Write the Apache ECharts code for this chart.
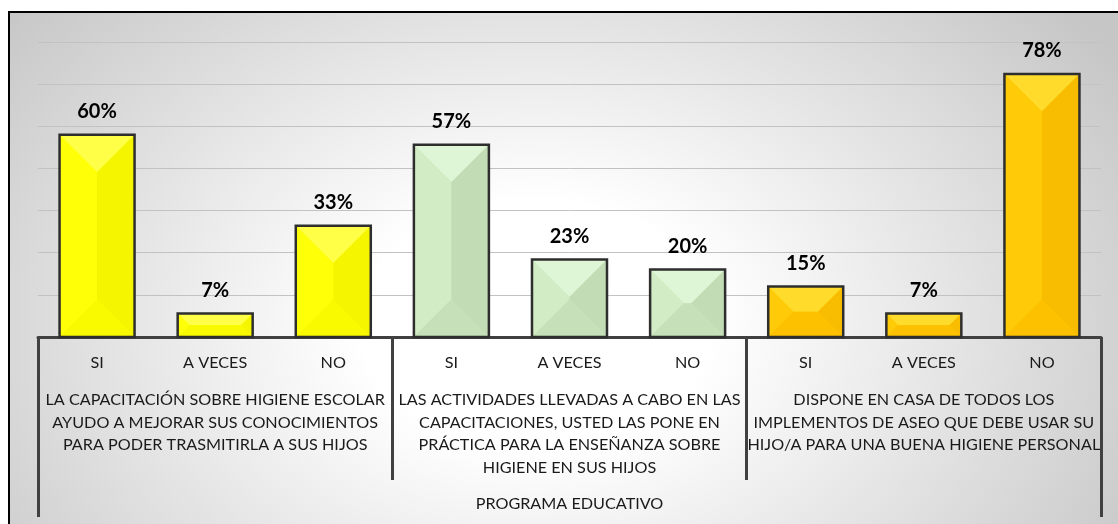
<!DOCTYPE html>
<html>
<head>
<meta charset="utf-8">
<script src="https://cdn.jsdelivr.net/npm/echarts@6/dist/echarts.min.js"></script>
<style>
  html, body { margin: 0; padding: 0; background: #ffffff; }
  #bg { position: absolute; left: 8px; top: 11px; width: 1120px; height: 520px;
        border-left: 2px solid #000; border-top: 2px solid #000;
        background: radial-gradient(ellipse 62% 95% at 47% 60%, #ffffff 25%, #c6c6c6 100%); }
  #chart { position: absolute; left: 0; top: 0; width: 1118px; height: 524px; }
</style>
</head>
<body>
<div id="bg"></div>
<div id="chart"></div>
<script>
// ---- data ----
const categories = ['SI', 'A VECES', 'NO', 'SI', 'A VECES', 'NO', 'SI', 'A VECES', 'NO'];
const groups = [
  'LA CAPACITACIÓN SOBRE HIGIENE ESCOLAR\nAYUDO A MEJORAR SUS CONOCIMIENTOS\nPARA PODER TRASMITIRLA A SUS HIJOS',
  'LAS ACTIVIDADES LLEVADAS A CABO EN LAS\nCAPACITACIONES, USTED LAS PONE EN\nPRÁCTICA PARA LA ENSEÑANZA SOBRE\nHIGIENE EN SUS HIJOS',
  'DISPONE EN CASA DE TODOS LOS\nIMPLEMENTOS DE ASEO QUE DEBE USAR SU\nHIJO/A PARA UNA BUENA HIGIENE PERSONAL'
];
const topLevel = ['PROGRAMA EDUCATIVO'];
const values = [0.60, 0.07, 0.33, 0.57, 0.23, 0.20, 0.15, 0.07, 0.78];
const groupOfCategory = [0, 0, 0, 1, 1, 1, 2, 2, 2];

// bevel palettes per group: [center, top, left, right, bottom]
const palettes = [
  ['#ffff00', '#ffff48', '#ffff08', '#f5f500', '#f9f900'],
  ['#cce7bf', '#def6d5', '#d2ecc6', '#c2ddb5', '#c6e1b9'],
  ['#ffc600', '#ffdc2c', '#ffcb08', '#f8bc00', '#fdc100']
];

const chart = echarts.init(document.getElementById('chart'), null, { renderer: 'canvas' });

function renderBar(params, api) {
  const idx = api.value(0);
  const v = api.value(1);
  const top = api.coord([idx, v]);
  const base = api.coord([idx, 0]);
  const bw = api.size([1, 0])[0] * 0.635;
  const x0 = top[0] - bw / 2, x1 = top[0] + bw / 2;
  const y0 = top[1], y1 = base[1];
  const h = y1 - y0;
  const d = Math.min(bw / 2, h / 2);
  const p = palettes[groupOfCategory[idx]];
  const poly = (pts, fill) => ({ type: 'polygon', shape: { points: pts }, style: { fill: fill }, silent: true });
  return {
    type: 'group',
    children: [
      { type: 'rect', shape: { x: x0, y: y0, width: bw, height: h }, style: { fill: p[0] } },
      poly([[x0, y0], [x1, y0], [x1 - d, y0 + d], [x0 + d, y0 + d]], p[1]),
      poly([[x0, y0], [x0 + d, y0 + d], [x0 + d, y1 - d], [x0, y1]], p[2]),
      poly([[x1, y0], [x1 - d, y0 + d], [x1 - d, y1 - d], [x1, y1]], p[3]),
      poly([[x0, y1], [x0 + d, y1 - d], [x1 - d, y1 - d], [x1, y1]], p[4]),
      { type: 'rect', shape: { x: x0, y: y0, width: bw, height: h },
        style: { fill: 'none', stroke: '#2e2e2e', lineWidth: 2.5 } },
      { type: 'text', x: top[0], y: y0 - 13,
        style: { text: Math.round(v * 100) + '%', align: 'center', verticalAlign: 'bottom',
                 font: 'bold 20px Lato', fill: '#000000' } }
    ]
  };
}

const axisFont = { fontFamily: 'Lato', fontSize: 16.2, color: '#1a1a1a' };

chart.setOption({
  animation: false,
  backgroundColor: 'transparent',
  grid: { left: 38, right: 17, top: 42, bottom: 187, containLabel: false, outerBoundsMode: 'none' },
  xAxis: [
    {
      type: 'category', data: categories, position: 'bottom',
      axisLine: { show: true, lineStyle: { color: '#404040', width: 3 } },
      axisTick: { show: false },
      axisLabel: Object.assign({ interval: 0, margin: 18 }, axisFont),
      splitLine: { show: false }
    },
    {
      type: 'category', data: groups, position: 'bottom', gridIndex: 0,
      axisLine: { show: false },
      axisTick: { show: true, length: 143, lineStyle: { color: '#404040', width: 3 } },
      axisLabel: Object.assign({ interval: 0, margin: 52, lineHeight: 22.5, align: 'center' }, axisFont),
      splitLine: { show: false }
    },
    {
      type: 'category', data: topLevel, position: 'bottom', gridIndex: 0,
      axisLine: { show: false },
      axisTick: { show: true, length: 180, lineStyle: { color: '#404040', width: 3 } },
      axisLabel: Object.assign({ interval: 0, margin: 156, lineHeight: 22.5 }, axisFont),
      splitLine: { show: false }
    }
  ],
  yAxis: {
    type: 'value', min: 0, max: 0.875, interval: 0.125,
    axisLine: { show: false }, axisTick: { show: false }, axisLabel: { show: false },
    splitLine: { show: true, lineStyle: { color: '#c2c2c2', width: 1 } }
  },
  series: [{
    type: 'custom',
    xAxisIndex: 0, yAxisIndex: 0,
    renderItem: renderBar,
    encode: { x: 0, y: 1 },
    data: values.map((v, i) => [i, v]),
    z: 3
  }]
});
</script>
</body>
</html>
